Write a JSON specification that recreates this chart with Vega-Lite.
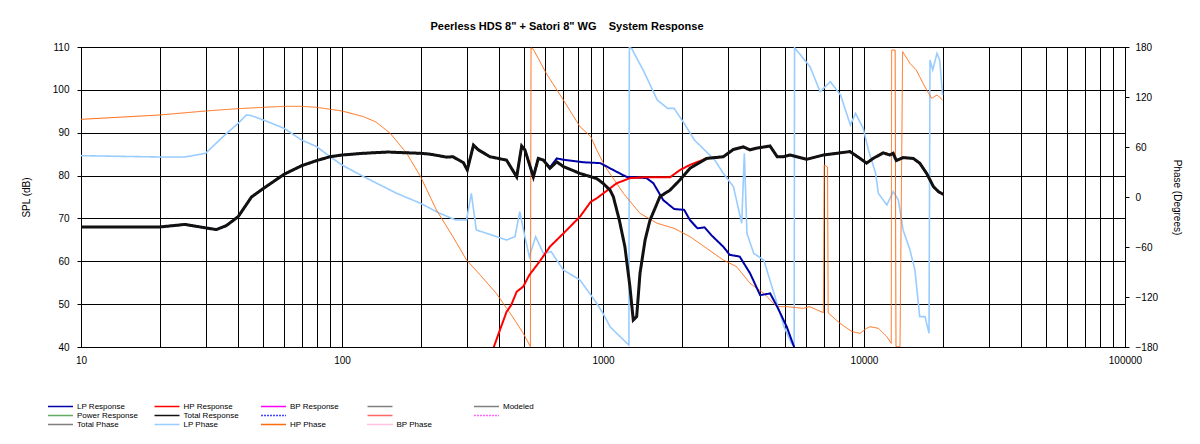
{
"$schema": "https://vega.github.io/schema/vega-lite/v6.json",
"width": 1044, "height": 300,
"autosize": "none",
"padding": {"left": 81, "top": 47, "right": 75, "bottom": 97},
"background": "white",
"title": {"text": "Peerless HDS 8\" + Satori 8\" WG\u00a0\u00a0\u00a0\u00a0System Response", "font": "Liberation Sans", "fontSize": 11, "fontWeight": "bold", "color": "#000", "anchor": "middle", "dx": -36, "offset": 10},
"datasets": {
"total": [
{"s":"Total Response","f":10,"v":68},{"s":"Total Response","f":20,"v":68},{"s":"Total Response","f":25,"v":68.6},{"s":"Total Response","f":30,"v":67.8},{"s":"Total Response","f":33,"v":67.4},{"s":"Total Response","f":36,"v":68.3},{"s":"Total Response","f":40,"v":70.4},{"s":"Total Response","f":45,"v":75},{"s":"Total Response","f":50,"v":77},{"s":"Total Response","f":60,"v":80.3},{"s":"Total Response","f":70,"v":82.3},{"s":"Total Response","f":80,"v":83.5},{"s":"Total Response","f":90,"v":84.4},{"s":"Total Response","f":100,"v":84.8},{"s":"Total Response","f":121,"v":85.2},{"s":"Total Response","f":150,"v":85.5},{"s":"Total Response","f":162,"v":85.4},{"s":"Total Response","f":200,"v":85.2},{"s":"Total Response","f":217,"v":85},{"s":"Total Response","f":252,"v":84.3},{"s":"Total Response","f":266,"v":84.4},{"s":"Total Response","f":292,"v":83},{"s":"Total Response","f":302,"v":81.3},{"s":"Total Response","f":319,"v":87.1},{"s":"Total Response","f":333,"v":86},{"s":"Total Response","f":369,"v":84.4},{"s":"Total Response","f":427,"v":83.6},{"s":"Total Response","f":467,"v":79.7},{"s":"Total Response","f":488,"v":86.9},{"s":"Total Response","f":502,"v":86},{"s":"Total Response","f":541,"v":79.7},{"s":"Total Response","f":565,"v":84},{"s":"Total Response","f":591,"v":83.6},{"s":"Total Response","f":626,"v":81.7},{"s":"Total Response","f":665,"v":83.2},{"s":"Total Response","f":705,"v":82.1},{"s":"Total Response","f":816,"v":80.5},{"s":"Total Response","f":946,"v":79.3},{"s":"Total Response","f":1000,"v":78.2},{"s":"Total Response","f":1064,"v":76.6},{"s":"Total Response","f":1095,"v":75.1},{"s":"Total Response","f":1155,"v":69.6},{"s":"Total Response","f":1213,"v":63.4},{"s":"Total Response","f":1268,"v":54.1},{"s":"Total Response","f":1306,"v":46.3},{"s":"Total Response","f":1346,"v":47.1},{"s":"Total Response","f":1386,"v":57.2},{"s":"Total Response","f":1450,"v":65},{"s":"Total Response","f":1514,"v":69.6},{"s":"Total Response","f":1653,"v":75.1},{"s":"Total Response","f":1806,"v":76.6},{"s":"Total Response","f":1973,"v":79},{"s":"Total Response","f":2155,"v":81.7},{"s":"Total Response","f":2495,"v":84},{"s":"Total Response","f":2890,"v":84.4},{"s":"Total Response","f":3160,"v":86.1},{"s":"Total Response","f":3450,"v":86.7},{"s":"Total Response","f":3656,"v":86},{"s":"Total Response","f":3877,"v":86.4},{"s":"Total Response","f":4365,"v":86.9},{"s":"Total Response","f":4650,"v":84.4},{"s":"Total Response","f":4913,"v":84.4},{"s":"Total Response","f":5204,"v":84.8},{"s":"Total Response","f":6030,"v":83.8},{"s":"Total Response","f":6985,"v":84.8},{"s":"Total Response","f":8091,"v":85.3},{"s":"Total Response","f":8836,"v":85.6},{"s":"Total Response","f":9663,"v":84},{"s":"Total Response","f":10230,"v":82.9},{"s":"Total Response","f":10840,"v":84},{"s":"Total Response","f":11850,"v":85.3},{"s":"Total Response","f":12560,"v":84.8},{"s":"Total Response","f":12930,"v":85.2},{"s":"Total Response","f":13300,"v":83.5},{"s":"Total Response","f":14120,"v":84.2},{"s":"Total Response","f":15440,"v":84},{"s":"Total Response","f":16350,"v":82.9},{"s":"Total Response","f":17380,"v":80.5},{"s":"Total Response","f":18460,"v":77.4},{"s":"Total Response","f":19330,"v":76.2},{"s":"Total Response","f":20150,"v":75.6}
],
"lp": [
{"s":"LP Response","f":10,"v":68},{"s":"LP Response","f":20,"v":68},{"s":"LP Response","f":25,"v":68.6},{"s":"LP Response","f":30,"v":67.8},{"s":"LP Response","f":33,"v":67.4},{"s":"LP Response","f":36,"v":68.3},{"s":"LP Response","f":40,"v":70.4},{"s":"LP Response","f":45,"v":75},{"s":"LP Response","f":50,"v":77},{"s":"LP Response","f":60,"v":80.3},{"s":"LP Response","f":70,"v":82.3},{"s":"LP Response","f":80,"v":83.5},{"s":"LP Response","f":90,"v":84.4},{"s":"LP Response","f":100,"v":84.8},{"s":"LP Response","f":121,"v":85.2},{"s":"LP Response","f":150,"v":85.5},{"s":"LP Response","f":162,"v":85.4},{"s":"LP Response","f":200,"v":85.2},{"s":"LP Response","f":217,"v":85},{"s":"LP Response","f":252,"v":84.3},{"s":"LP Response","f":266,"v":84.4},{"s":"LP Response","f":292,"v":83},{"s":"LP Response","f":302,"v":81.3},{"s":"LP Response","f":319,"v":87.1},{"s":"LP Response","f":333,"v":86},{"s":"LP Response","f":369,"v":84.4},{"s":"LP Response","f":427,"v":83.6},{"s":"LP Response","f":467,"v":79.7},{"s":"LP Response","f":488,"v":86.9},{"s":"LP Response","f":502,"v":86},{"s":"LP Response","f":541,"v":79.7},{"s":"LP Response","f":565,"v":84},{"s":"LP Response","f":591,"v":83.6},{"s":"LP Response","f":626,"v":81.9},{"s":"LP Response","f":665,"v":84},{"s":"LP Response","f":705,"v":83.7},{"s":"LP Response","f":840,"v":83.1},{"s":"LP Response","f":976,"v":82.9},{"s":"LP Response","f":1095,"v":81.3},{"s":"LP Response","f":1230,"v":79.7},{"s":"LP Response","f":1470,"v":79.4},{"s":"LP Response","f":1560,"v":78.2},{"s":"LP Response","f":1700,"v":74.3},{"s":"LP Response","f":1873,"v":72.2},{"s":"LP Response","f":2046,"v":72},{"s":"LP Response","f":2155,"v":69.6},{"s":"LP Response","f":2300,"v":67.7},{"s":"LP Response","f":2450,"v":67.9},{"s":"LP Response","f":2600,"v":66.1},{"s":"LP Response","f":2890,"v":63.4},{"s":"LP Response","f":3060,"v":61.5},{"s":"LP Response","f":3340,"v":61.1},{"s":"LP Response","f":3660,"v":57.2},{"s":"LP Response","f":4000,"v":52.1},{"s":"LP Response","f":4370,"v":52.5},{"s":"LP Response","f":4650,"v":49.4},{"s":"LP Response","f":5060,"v":44.7},{"s":"LP Response","f":5420,"v":39.7}
],
"hp": [
{"s":"HP Response","f":370,"v":37},{"s":"HP Response","f":380,"v":39.7},{"s":"HP Response","f":403,"v":44},{"s":"HP Response","f":427,"v":48.2},{"s":"HP Response","f":445,"v":49.8},{"s":"HP Response","f":467,"v":52.9},{"s":"HP Response","f":495,"v":54.1},{"s":"HP Response","f":522,"v":56.8},{"s":"HP Response","f":571,"v":59.9},{"s":"HP Response","f":626,"v":63.4},{"s":"HP Response","f":705,"v":66.5},{"s":"HP Response","f":816,"v":70.4},{"s":"HP Response","f":898,"v":73.9},{"s":"HP Response","f":946,"v":74.7},{"s":"HP Response","f":1000,"v":75.8},{"s":"HP Response","f":1128,"v":78.2},{"s":"HP Response","f":1268,"v":79.4},{"s":"HP Response","f":1435,"v":79.6},{"s":"HP Response","f":1806,"v":79.6},{"s":"HP Response","f":1973,"v":81.3},{"s":"HP Response","f":2155,"v":82.5},{"s":"HP Response","f":2495,"v":84},{"s":"HP Response","f":2890,"v":84.4},{"s":"HP Response","f":3160,"v":86.1},{"s":"HP Response","f":3450,"v":86.7},{"s":"HP Response","f":3656,"v":86},{"s":"HP Response","f":3877,"v":86.4},{"s":"HP Response","f":4365,"v":86.9},{"s":"HP Response","f":4650,"v":84.4},{"s":"HP Response","f":4913,"v":84.4},{"s":"HP Response","f":5204,"v":84.8},{"s":"HP Response","f":6030,"v":83.8},{"s":"HP Response","f":6985,"v":84.8},{"s":"HP Response","f":8091,"v":85.3},{"s":"HP Response","f":8836,"v":85.6},{"s":"HP Response","f":9663,"v":84},{"s":"HP Response","f":10230,"v":82.9},{"s":"HP Response","f":10840,"v":84},{"s":"HP Response","f":11850,"v":85.3},{"s":"HP Response","f":12560,"v":84.8},{"s":"HP Response","f":12930,"v":85.2},{"s":"HP Response","f":13300,"v":83.5},{"s":"HP Response","f":14120,"v":84.2},{"s":"HP Response","f":15440,"v":84},{"s":"HP Response","f":16350,"v":82.9},{"s":"HP Response","f":17380,"v":80.5},{"s":"HP Response","f":18460,"v":77.4},{"s":"HP Response","f":19330,"v":76.2},{"s":"HP Response","f":20150,"v":75.6}
],
"lpph": [
{"s":"LP Phase","f":10,"v":49.6},{"s":"LP Phase","f":20,"v":48},{"s":"LP Phase","f":25,"v":48},{"s":"LP Phase","f":30,"v":52.4},{"s":"LP Phase","f":35,"v":72.4},{"s":"LP Phase","f":40,"v":88.4},{"s":"LP Phase","f":43,"v":98.4},{"s":"LP Phase","f":45,"v":97.6},{"s":"LP Phase","f":50,"v":92.4},{"s":"LP Phase","f":60,"v":82.4},{"s":"LP Phase","f":70,"v":68.4},{"s":"LP Phase","f":80,"v":60.4},{"s":"LP Phase","f":90,"v":48.4},{"s":"LP Phase","f":100,"v":38.4},{"s":"LP Phase","f":121,"v":24.4},{"s":"LP Phase","f":162,"v":4.4},{"s":"LP Phase","f":200,"v":-7.6},{"s":"LP Phase","f":237,"v":-19.6},{"s":"LP Phase","f":273,"v":-27.6},{"s":"LP Phase","f":300,"v":-27.6},{"s":"LP Phase","f":313,"v":4.4},{"s":"LP Phase","f":327,"v":-39.6},{"s":"LP Phase","f":358,"v":-43.6},{"s":"LP Phase","f":427,"v":-51.6},{"s":"LP Phase","f":460,"v":-47.6},{"s":"LP Phase","f":480,"v":-17.6},{"s":"LP Phase","f":502,"v":-47.6},{"s":"LP Phase","f":522,"v":-71.6},{"s":"LP Phase","f":552,"v":-47.6},{"s":"LP Phase","f":591,"v":-67.6},{"s":"LP Phase","f":633,"v":-65.6},{"s":"LP Phase","f":705,"v":-87.6},{"s":"LP Phase","f":816,"v":-99.6},{"s":"LP Phase","f":898,"v":-117.6},{"s":"LP Phase","f":946,"v":-127.6},{"s":"LP Phase","f":1000,"v":-139.6},{"s":"LP Phase","f":1064,"v":-155.6},{"s":"LP Phase","f":1128,"v":-163.6},{"s":"LP Phase","f":1257,"v":-177.6},{"s":"LP Phase","f":1262,"v":179},{"s":"LP Phase","f":1287,"v":178.4},{"s":"LP Phase","f":1435,"v":150.4},{"s":"LP Phase","f":1614,"v":116.4},{"s":"LP Phase","f":1766,"v":106.4},{"s":"LP Phase","f":1873,"v":106.4},{"s":"LP Phase","f":2046,"v":88.4},{"s":"LP Phase","f":2240,"v":68.4},{"s":"LP Phase","f":2450,"v":56.4},{"s":"LP Phase","f":2680,"v":44.4},{"s":"LP Phase","f":2890,"v":28.4},{"s":"LP Phase","f":3160,"v":12.4},{"s":"LP Phase","f":3400,"v":-31.6},{"s":"LP Phase","f":3480,"v":52.4},{"s":"LP Phase","f":3560,"v":-43.6},{"s":"LP Phase","f":3780,"v":-67.6},{"s":"LP Phase","f":4130,"v":-75.6},{"s":"LP Phase","f":4520,"v":-115.6},{"s":"LP Phase","f":4940,"v":-155.6},{"s":"LP Phase","f":5270,"v":-175.6},{"s":"LP Phase","f":5400,"v":-179},{"s":"LP Phase","f":5420,"v":179},{"s":"LP Phase","f":5510,"v":176.4},{"s":"LP Phase","f":6210,"v":156.4},{"s":"LP Phase","f":6790,"v":126.4},{"s":"LP Phase","f":7430,"v":138.4},{"s":"LP Phase","f":8130,"v":122.4},{"s":"LP Phase","f":8870,"v":86.4},{"s":"LP Phase","f":9280,"v":100.4},{"s":"LP Phase","f":9930,"v":82.4},{"s":"LP Phase","f":10400,"v":56.4},{"s":"LP Phase","f":11080,"v":28.4},{"s":"LP Phase","f":11350,"v":4.4},{"s":"LP Phase","f":12230,"v":-9.6},{"s":"LP Phase","f":12940,"v":6.4},{"s":"LP Phase","f":13540,"v":-3.6},{"s":"LP Phase","f":14120,"v":-39.6},{"s":"LP Phase","f":15000,"v":-63.6},{"s":"LP Phase","f":15670,"v":-87.6},{"s":"LP Phase","f":16350,"v":-143.6},{"s":"LP Phase","f":17130,"v":-143.6},{"s":"LP Phase","f":17750,"v":-163.6},{"s":"LP Phase","f":17900,"v":164.4},{"s":"LP Phase","f":18340,"v":152.4},{"s":"LP Phase","f":19040,"v":172.4},{"s":"LP Phase","f":19500,"v":164.4},{"s":"LP Phase","f":20000,"v":122.4}
],
"hpph": [
{"s":"HP Phase","f":10,"v":93.2},{"s":"HP Phase","f":20,"v":98.4},{"s":"HP Phase","f":30,"v":103.2},{"s":"HP Phase","f":40,"v":106},{"s":"HP Phase","f":50,"v":107.6},{"s":"HP Phase","f":60,"v":108.8},{"s":"HP Phase","f":70,"v":108.8},{"s":"HP Phase","f":80,"v":107.6},{"s":"HP Phase","f":100,"v":103.2},{"s":"HP Phase","f":121,"v":96.4},{"s":"HP Phase","f":135,"v":90},{"s":"HP Phase","f":153,"v":76.4},{"s":"HP Phase","f":177,"v":52.4},{"s":"HP Phase","f":200,"v":24.4},{"s":"HP Phase","f":230,"v":-15.6},{"s":"HP Phase","f":266,"v":-47.6},{"s":"HP Phase","f":300,"v":-75.6},{"s":"HP Phase","f":334,"v":-91.6},{"s":"HP Phase","f":390,"v":-115.6},{"s":"HP Phase","f":450,"v":-143.6},{"s":"HP Phase","f":495,"v":-163.6},{"s":"HP Phase","f":527,"v":-179.6},{"s":"HP Phase","f":530,"v":179},{"s":"HP Phase","f":541,"v":177.2},{"s":"HP Phase","f":606,"v":148.4},{"s":"HP Phase","f":705,"v":116.4},{"s":"HP Phase","f":816,"v":84.4},{"s":"HP Phase","f":898,"v":72.4},{"s":"HP Phase","f":946,"v":56.4},{"s":"HP Phase","f":1020,"v":36.4},{"s":"HP Phase","f":1198,"v":4.4},{"s":"HP Phase","f":1386,"v":-19.6},{"s":"HP Phase","f":1614,"v":-31.6},{"s":"HP Phase","f":1873,"v":-37.6},{"s":"HP Phase","f":2155,"v":-47.6},{"s":"HP Phase","f":2495,"v":-61.6},{"s":"HP Phase","f":2890,"v":-75.6},{"s":"HP Phase","f":3250,"v":-83.6},{"s":"HP Phase","f":3660,"v":-103.6},{"s":"HP Phase","f":4130,"v":-115.6},{"s":"HP Phase","f":4630,"v":-131.6},{"s":"HP Phase","f":5060,"v":-131.6},{"s":"HP Phase","f":5860,"v":-133.6},{"s":"HP Phase","f":6180,"v":-131.6},{"s":"HP Phase","f":6990,"v":-138.8},{"s":"HP Phase","f":7040,"v":38.4},{"s":"HP Phase","f":7250,"v":36},{"s":"HP Phase","f":7290,"v":-139},{"s":"HP Phase","f":8090,"v":-151.6},{"s":"HP Phase","f":9000,"v":-161.6},{"s":"HP Phase","f":9660,"v":-163.6},{"s":"HP Phase","f":10230,"v":-157.6},{"s":"HP Phase","f":10540,"v":-155.6},{"s":"HP Phase","f":11350,"v":-157.6},{"s":"HP Phase","f":12230,"v":-167.6},{"s":"HP Phase","f":12720,"v":-175.6},{"s":"HP Phase","f":12760,"v":176.4},{"s":"HP Phase","f":13160,"v":176.4},{"s":"HP Phase","f":13260,"v":-179.6},{"s":"HP Phase","f":13740,"v":-179.6},{"s":"HP Phase","f":14060,"v":174.4},{"s":"HP Phase","f":15000,"v":160.4},{"s":"HP Phase","f":15860,"v":152.4},{"s":"HP Phase","f":16840,"v":136.4},{"s":"HP Phase","f":17380,"v":128.4},{"s":"HP Phase","f":18170,"v":118.4},{"s":"HP Phase","f":19040,"v":122.4},{"s":"HP Phase","f":20000,"v":116.4}
]
},
"encoding": {
  "x": {"field": "f", "type": "quantitative", "title": null,
    "scale": {"type": "log", "domain": [10, 100000], "nice": false},
    "axis": {"values": [10,20,30,40,50,60,70,80,90,100,200,300,400,500,600,700,800,900,1000,2000,3000,4000,5000,6000,7000,8000,9000,10000,20000,30000,40000,50000,60000,70000,80000,90000,100000],
      "format": "d", "labelExpr": "(datum.value==10||datum.value==100||datum.value==1000||datum.value==10000||datum.value==100000)?datum.label:''",
      "ticks": false, "labelPadding": 8, "grid": true, "labelOverlap": false, "labelFlush": false, "labelBound": false, "domain": true}},
  "color": {"field": "s", "type": "nominal",
    "scale": {"domain": ["LP Response","HP Response","BP Response","blank1","Modeled","Power Response","Total Response","blank2","blank3","blank4","Total Phase","LP Phase","HP Phase","BP Phase"],
      "range": ["#0000A8","#FF0000","#FF00FF","#808080","#808080","#66AA66","#111111","#4444FF","#FF6666","#FF66FF","#808080","#99CCFF","#FF6A10","#FF88BB"]},
    "legend": {"orient": "none", "legendX": -34, "legendY": 355, "columns": 5, "direction": "horizontal", "title": null,
      "labelExpr": "indexof(datum.label, 'blank') == 0 ? '' : datum.label",
      "symbolType": "stroke", "symbolSize": 625, "symbolStrokeWidth": 1.5, "labelFont": "Liberation Sans", "labelFontSize": 8, "labelColor": "#000",
      "clipHeight": 9, "rowPadding": 0, "columnPadding": 15.5, "gridAlign": "all", "labelOffset": 3, "padding": 0}},
  "strokeDash": {"field": "s", "type": "nominal",
    "scale": {"domain": ["LP Response","HP Response","BP Response","blank1","Modeled","Power Response","Total Response","blank2","blank3","blank4","Total Phase","LP Phase","HP Phase","BP Phase"],
      "range": [[1,0],[1,0],[1,0],[1,0],[1,0],[1,0],[1,0],[2,1],[1,0],[2,1],[1,0],[1,0],[1,0],[1,1]]},
    "legend": {"orient": "none", "legendX": -34, "legendY": 355, "columns": 5, "direction": "horizontal", "title": null,
      "labelExpr": "indexof(datum.label, 'blank') == 0 ? '' : datum.label",
      "symbolType": "stroke", "symbolSize": 625, "symbolStrokeWidth": 1.5, "labelFont": "Liberation Sans", "labelFontSize": 8, "labelColor": "#000",
      "clipHeight": 9, "rowPadding": 0, "columnPadding": 15.5, "gridAlign": "all", "labelOffset": 3, "padding": 0}}
},
"resolve": {"scale": {"y": "independent"}},
"layer": [
  {
    "encoding": {"y": {"field": "v", "type": "quantitative", "title": "Phase (Degrees)",
      "scale": {"domain": [-180, 180], "nice": false, "zero": false},
      "axis": {"orient": "right", "values": [-180,-120,-60,0,60,120,180], "grid": false, "tickSize": 4, "labelPadding": 6, "titlePadding": 14}}},
    "layer": [
      {"data": {"name": "lpph"}, "mark": {"type": "line", "strokeWidth": 1.6, "clip": true}},
      {"data": {"name": "hpph"}, "mark": {"type": "line", "strokeWidth": 1, "clip": true}}
    ]
  },
  {
    "encoding": {"y": {"field": "v", "type": "quantitative", "title": "SPL (dB)",
      "scale": {"domain": [40, 110], "nice": false, "zero": false},
      "axis": {"orient": "left", "values": [40,50,60,70,80,90,100,110], "grid": true, "tickSize": 4, "labelPadding": 8, "titlePadding": 21}}},
    "layer": [
      {"data": {"name": "lp"}, "mark": {"type": "line", "strokeWidth": 2, "clip": true}},
      {"data": {"name": "hp"}, "mark": {"type": "line", "strokeWidth": 2, "clip": true}},
      {"data": {"name": "total"}, "mark": {"type": "line", "strokeWidth": 3, "clip": true}}
    ]
  }
],
"config": {
  "font": "Liberation Sans",
  "view": {"stroke": "#000", "strokeWidth": 1},
  "axis": {"labelFont": "Liberation Sans", "labelFontSize": 10, "labelColor": "#000", "titleFont": "Liberation Sans", "titleFontSize": 10, "titleFontWeight": "normal", "titleColor": "#000", "domainColor": "#000", "tickColor": "#000", "gridColor": "#000", "gridOpacity": 1, "gridWidth": 1}
}
}
